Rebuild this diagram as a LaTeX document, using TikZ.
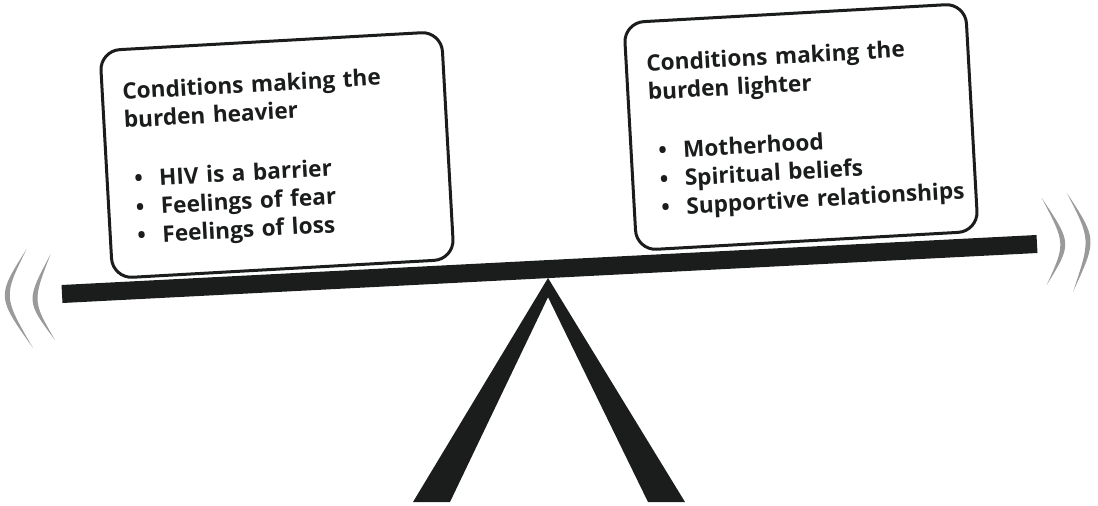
\documentclass[tikz,border=0pt]{standalone}
\usepackage{fontspec}
\setmainfont{Open Sans}
\usetikzlibrary{calc}

\definecolor{ink}{HTML}{1B1D1D}
\definecolor{swing}{HTML}{9A9A9A}

\begin{document}
\begin{tikzpicture}[x=1pt,y=-1pt,
  panel/.style={draw=ink,line width=3pt,rounded corners=20pt,fill=white,
    minimum width=342pt,minimum height=228pt,inner sep=0pt},
  listtext/.style={text=ink,text width=340pt,align=left,inner sep=0pt,
    font=\fontsize{22.6}{28.4}\selectfont\bfseries}]
\def\burdenitem#1{\makebox[32pt][l]{\hspace{7pt}\textbullet}#1}
\def\swingarc#1#2#3{\fill[swing] (#1) .. controls ($(#3)+(-3.3,0)$) .. (#2)
    .. controls ($(#3)+(3.3,0)$) .. (#1);}
\useasboundingbox (0,0) rectangle (1098,506);
  % beam and stand
  \fill[ink] (61.5,285) -- (1036.5,235) -- (1037.5,253) -- (62.5,303) -- cycle;
  \fill[ink] (548,278) -- (413,502) -- (450,502) -- (551,291) -- cycle;
  \fill[ink] (548,278) -- (685,502) -- (648,502) -- (545,291) -- cycle;
  % motion marks
  \swingarc{26.7,249}{33,348}{-0.2,296.5}
  \swingarc{50.7,254}{55,340}{29.1,301}
  \swingarc{1041.7,198}{1046.7,285}{1068.9,243.5}
  \swingarc{1066.7,192.7}{1073,291.7}{1094,239.3}
  \begin{scope}[shift={(277,155)},rotate=3.2,transform shape]
    \node[panel] (heavier) at (0,0) {};
    \node[listtext,anchor=base west] (heavierlist) at (-151,-64)
      {Conditions making the\\burden heavier\\[31pt]
       \burdenitem{HIV is a barrier}\\
       \burdenitem{Feelings of fear}\\
       \burdenitem{Feelings of loss}};
  \end{scope}
  \begin{scope}[shift={(801,127)},rotate=3.2,transform shape]
    \node[panel] (lighter) at (0,0) {};
    \node[listtext,anchor=base west] (lighterlist) at (-151,-64)
      {Conditions making the\\burden lighter\\[31pt]
       \burdenitem{Motherhood}\\
       \burdenitem{Spiritual beliefs}\\
       \burdenitem{Supportive relationships}};
  \end{scope}
\end{tikzpicture}
\end{document}
